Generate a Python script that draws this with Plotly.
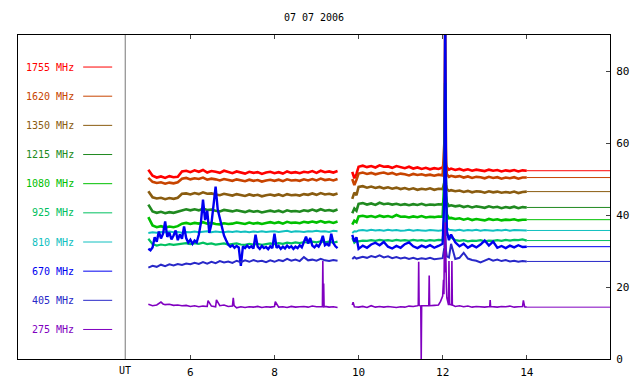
import plotly.graph_objects as go

TITLE = "07 07 2006"
CHANNELS = ["1755 MHz", "1620 MHz", "1350 MHz", "1215 MHz", "1080 MHz",
            "925 MHz", "810 MHz", "670 MHz", "405 MHz", "275 MHz"]
COLORS = ["#ff0000", "#c84400", "#8a5c10", "#208a20", "#00c000",
          "#00c060", "#10c0c0", "#0000f0", "#2828c8", "#8000c0"]
X_TICKS = [6, 8, 10, 12, 14]
Y_TICKS = [0, 20, 40, 60, 80]
UT_HOUR = 4.45
X_END = 15.98

# time grids (UT hours)
HOURS_A = [5.0, 5.1, 5.2, 5.3, 5.4, 5.5, 5.6, 5.7, 5.8, 5.9,
           6.0, 6.1, 6.2, 6.3, 6.4, 6.5, 6.6, 6.7, 6.8, 6.9,
           7.0, 7.1, 7.2, 7.3, 7.4, 7.5, 7.6, 7.7, 7.8, 7.9,
           8.0, 8.1, 8.2, 8.3, 8.4, 8.5, 8.6, 8.7, 8.8, 8.9,
           9.0, 9.1, 9.2, 9.3, 9.4, 9.5]
HOURS_B = [9.85, 9.9, 9.95,
           10.0, 10.1, 10.2, 10.3, 10.4, 10.5, 10.6, 10.7, 10.8, 10.9,
           11.0, 11.1, 11.2, 11.3, 11.4, 11.5, 11.6, 11.7, 11.8, 11.9, 12.0,
           12.04, 12.06, 12.08, 12.1, 12.15, 12.2,
           12.3, 12.4, 12.5, 12.6, 12.7, 12.8, 12.9,
           13.0, 13.1, 13.2, 13.3, 13.4, 13.5, 13.6, 13.7, 13.8, 13.9, 14.0]
HOURS_A_FINE = [5.0, 5.05, 5.1, 5.15, 5.2, 5.25, 5.3, 5.35, 5.4, 5.45,
                5.5, 5.55, 5.6, 5.65, 5.7, 5.75, 5.8, 5.85, 5.9, 5.95,
                6.0, 6.05, 6.1, 6.15, 6.2, 6.25, 6.3, 6.35, 6.4, 6.45,
                6.5, 6.55, 6.6, 6.65, 6.7, 6.75, 6.8, 6.85, 6.9, 6.95,
                7.0, 7.05, 7.1, 7.15, 7.2, 7.25, 7.3, 7.35, 7.4, 7.45,
                7.5, 7.55, 7.6, 7.65, 7.7, 7.75, 7.8, 7.85, 7.9, 7.95,
                8.0, 8.05, 8.1, 8.15, 8.2, 8.25, 8.3, 8.35, 8.4, 8.45,
                8.5, 8.55, 8.6, 8.65, 8.7, 8.75, 8.8, 8.85, 8.9, 8.95,
                9.0, 9.05, 9.1, 9.15, 9.2, 9.25, 9.3, 9.35, 9.4, 9.45,
                9.5]
HOURS_P_A = [5.0, 5.1, 5.2, 5.3, 5.35, 5.4, 5.5, 5.6, 5.7, 5.8,
             5.9, 6.0, 6.1, 6.2, 6.3, 6.4, 6.42, 6.5, 6.6, 6.62,
             6.7, 6.8, 6.9, 7.0, 7.02, 7.04, 7.1, 7.2, 7.3, 7.4,
             7.5, 7.6, 7.7, 7.8, 7.9, 8.0, 8.02, 8.1, 8.2, 8.3,
             8.4, 8.5, 8.6, 8.7, 8.8, 8.9, 9.0, 9.1, 9.14, 9.15,
             9.16, 9.17, 9.18, 9.2, 9.3, 9.4, 9.5]
HOURS_P_B = [9.85, 9.87, 9.9, 10.0, 10.1, 10.2, 10.3, 10.4, 10.5, 10.6,
             10.7, 10.8, 10.9, 11.0, 11.1, 11.2, 11.3, 11.4, 11.42, 11.43,
             11.44, 11.48, 11.49, 11.5, 11.6, 11.67, 11.68, 11.69, 11.8, 11.9,
             11.95, 12.0, 12.02, 12.03, 12.04, 12.05, 12.06, 12.07, 12.08, 12.09,
             12.1, 12.12, 12.14, 12.15, 12.16, 12.21, 12.22, 12.23, 12.3, 12.4,
             12.5, 12.6, 12.7, 12.8, 12.9, 13.0, 13.12, 13.13, 13.14, 13.2,
             13.3, 13.4, 13.5, 13.6, 13.7, 13.8, 13.9, 13.92, 13.95, 14.0]

# flux values (arbitrary units)
F1755_A = [52.6, 50.9, 50.4, 50.7, 50.3, 50.8, 50.5, 50.6, 52.1, 52.3,
           51.9, 52.4, 52.0, 52.5, 51.8, 52.2, 52.0, 51.7, 52.3, 51.9,
           51.6, 52.1, 51.8, 51.5, 52.0, 51.7, 51.9, 51.4, 51.8, 52.0,
           51.6, 51.9, 51.5, 52.1, 51.7, 51.9, 51.6, 52.0, 51.8, 52.2,
           51.7, 52.3, 51.9, 52.1, 51.8, 52.2]
F1755_B = [52.0, 50.2, 51.4,
           53.4, 53.7, 53.3, 53.6, 53.2, 53.8, 53.4, 53.5, 53.1, 53.6,
           53.3, 53.0, 53.4, 52.9, 53.2, 52.8, 53.1, 52.7, 53.0, 52.8, 53.2,
           54.5, 67.0, 53.8, 53.2, 52.6, 52.9,
           52.5, 52.8, 52.4, 52.7, 52.3, 52.6, 52.5,
           52.2, 52.6, 52.3, 52.5, 52.1, 52.4, 52.2, 52.5, 52.1, 52.4, 52.3]
F1620_A = [50.3, 49.2, 48.9, 49.1, 48.7, 49.0, 48.8, 49.1, 50.1, 50.3,
           49.9, 50.2, 50.0, 50.4, 49.8, 50.1, 49.9, 49.6, 50.0, 49.8,
           49.5, 49.9, 49.7, 49.4, 49.8, 49.5, 49.7, 49.3, 49.6, 49.8,
           49.5, 49.8, 49.4, 49.9, 49.6, 49.7, 49.5, 49.9, 49.6, 50.0,
           49.6, 50.1, 49.7, 49.9, 49.6, 50.0]
F1620_B = [50.0, 48.3, 49.8,
           51.5, 51.8, 51.4, 51.7, 51.3, 51.6, 51.8, 51.4, 51.7, 51.2,
           51.5, 51.3, 51.0, 51.4, 51.1, 51.3, 51.0, 51.2, 50.9, 51.2, 51.0,
           60.0, 95.0, 55.0, 51.3, 50.6, 50.9,
           50.6, 50.8, 50.4, 50.7, 50.3, 50.6, 50.5,
           50.2, 50.6, 50.3, 50.5, 50.1, 50.4, 50.2, 50.5, 50.1, 50.4, 50.4]
F1350_A = [46.6, 44.9, 44.6, 44.8, 44.4, 44.7, 44.5, 44.8, 45.9, 46.0,
           45.7, 46.1, 45.8, 46.3, 45.9, 46.0, 45.7, 45.5, 45.9, 45.6,
           45.4, 45.8, 45.6, 45.3, 45.7, 45.4, 45.6, 45.2, 45.5, 45.7,
           45.4, 45.7, 45.3, 45.8, 45.5, 45.6, 45.4, 45.8, 45.6, 46.0,
           45.6, 46.1, 45.7, 45.9, 45.6, 46.0]
F1350_B = [44.5, 46.2, 45.5,
           47.8, 48.0, 47.6, 47.9, 47.5, 47.8, 47.4, 47.7, 47.3, 47.6,
           47.2, 47.5, 47.1, 47.4, 47.0, 47.3, 47.1, 47.4, 47.0, 47.3, 47.2,
           49.0, 52.0, 48.5, 47.2, 46.7, 46.9,
           46.6, 46.8, 46.4, 46.7, 46.3, 46.6, 46.5,
           46.2, 46.6, 46.3, 46.5, 46.2, 46.4, 46.2, 46.5, 46.1, 46.4, 46.5]
F1215_A = [42.9, 41.0, 40.6, 40.9, 40.5, 40.8, 40.6, 40.9, 41.4, 41.6,
           41.3, 41.6, 41.3, 41.8, 41.4, 41.5, 41.2, 41.0, 41.4, 41.1,
           41.0, 41.3, 41.1, 40.8, 41.2, 40.9, 41.1, 40.7, 41.0, 41.2,
           40.9, 41.2, 40.8, 41.3, 41.0, 41.1, 40.9, 41.3, 41.1, 41.5,
           41.1, 41.6, 41.2, 41.4, 41.1, 41.5]
F1215_B = [40.5, 41.8, 41.2,
           43.1, 43.3, 42.9, 43.2, 42.8, 43.4, 43.0, 43.2, 42.9, 43.1,
           42.8, 43.0, 42.7, 43.0, 42.8, 43.1, 42.7, 42.9, 42.8, 43.0, 42.9,
           45.0, 48.5, 45.5, 43.4, 42.5, 42.7,
           42.4, 42.6, 42.2, 42.5, 42.1, 42.4, 42.2,
           42.0, 42.4, 42.1, 42.3, 41.9, 42.2, 42.0, 42.3, 41.9, 42.2, 42.1]
F1080_A = [39.4, 37.1, 36.6, 36.9, 36.5, 36.8, 36.6, 36.9, 37.6, 37.8,
           37.5, 37.8, 37.6, 38.0, 37.6, 37.8, 37.5, 37.4, 37.7, 37.5,
           37.6, 37.9, 37.7, 37.5, 37.9, 37.6, 37.8, 37.5, 37.8, 38.0,
           37.7, 38.0, 37.6, 38.1, 37.8, 37.9, 37.7, 38.1, 37.9, 38.2,
           37.9, 38.3, 37.9, 38.1, 37.8, 38.2]
F1080_B = [37.3, 38.4, 38.0,
           39.6, 39.8, 39.5, 39.7, 39.4, 39.8, 39.5, 39.7, 39.4, 40.0,
           39.5, 39.6, 39.3, 39.6, 39.4, 39.7, 39.3, 39.5, 39.4, 39.6, 39.5,
           50.0, 76.7, 45.0, 40.2, 39.1, 39.2,
           38.9, 39.1, 38.7, 39.0, 38.6, 38.9, 38.7,
           38.5, 38.9, 38.6, 38.8, 38.5, 38.7, 38.6, 38.8, 38.5, 38.7, 38.7]
F925_A = [33.4, 31.9, 31.5, 31.8, 31.6, 31.9, 31.7, 31.8, 32.1, 32.2,
          31.9, 32.2, 32.0, 32.3, 31.9, 32.1, 31.8, 31.9, 32.1, 31.8,
          31.9, 32.1, 31.8, 31.7, 32.0, 31.8, 32.0, 31.7, 31.9, 32.1,
          31.9, 32.2, 32.0, 32.3, 32.1, 32.4, 32.2, 32.5, 32.3, 32.6,
          32.4, 32.7, 32.4, 32.6, 32.3, 32.6]
F925_B = [33.6, 32.3, 32.8,
          32.7, 32.9, 32.8, 33.0, 32.8, 33.1, 32.9, 33.0, 32.8, 33.1,
          32.9, 33.0, 32.8, 33.1, 32.9, 33.0, 32.8, 33.0, 32.9, 33.1, 33.0,
          38.0, 43.0, 37.0, 34.5, 34.2, 33.8,
          33.0, 32.8, 33.0, 32.7, 32.9, 32.8, 33.0,
          32.7, 32.9, 32.8, 33.0, 32.8, 33.1, 32.9, 33.1, 33.0, 33.2, 32.9]
F810_A = [35.0, 35.2, 35.1, 35.3, 35.2, 35.4, 35.2, 35.3, 35.1, 35.3,
          35.2, 35.4, 35.2, 35.3, 35.5, 35.2, 35.4, 35.3, 35.2, 35.4,
          35.3, 35.5, 35.3, 35.4, 35.2, 35.4, 35.3, 35.5, 35.3, 35.4,
          35.5, 35.3, 35.4, 35.6, 35.3, 35.5, 35.4, 35.3, 35.5, 35.4,
          35.6, 35.4, 35.5, 35.3, 35.6, 35.5]
F810_B = [35.0, 35.5, 35.4,
          35.7, 35.8, 35.6, 35.9, 35.7, 35.8, 35.6, 35.9, 35.7, 35.8,
          35.6, 35.7, 35.9, 35.6, 35.8, 35.7, 35.6, 35.8, 35.7, 35.6, 35.8,
          40.0, 45.0, 39.0, 36.5, 35.9, 35.8,
          35.7, 35.9, 35.6, 35.8, 35.7, 35.9, 35.6,
          35.8, 35.7, 35.6, 35.8, 35.7, 35.9, 35.6, 35.8, 35.7, 35.7, 35.7]
F670_A = [30.6, 30.2, 31.0, 33.8, 32.6, 35.4, 33.5, 34.8, 38.2, 33.9,
          35.1, 33.2, 34.3, 35.7, 33.0, 34.6, 33.4, 36.8, 33.6, 32.3,
          33.1, 32.0, 32.9, 32.4, 34.5, 37.8, 44.3, 38.6, 41.2, 35.0,
          37.5, 43.0, 47.9, 41.5, 38.8, 36.2, 34.3, 33.0, 31.8, 31.2,
          31.6, 30.9, 31.4, 31.0, 25.9, 31.3, 30.8, 31.5, 30.9, 31.3,
          30.7, 34.5, 31.2, 30.6, 31.4, 30.8, 31.1, 30.5, 31.3, 30.8,
          34.8, 30.9, 31.4, 30.6, 31.2, 30.7, 31.5, 30.9, 31.3, 30.6,
          31.2, 30.8, 31.6, 31.0, 32.4, 34.0, 32.1, 33.6, 31.5, 31.0,
          31.7, 31.2, 32.3, 34.2, 31.6, 32.0, 31.4, 34.8, 32.2, 31.3,
          30.8]
F670_B = [34.5, 32.6, 33.8,
          30.6, 31.5, 30.9, 31.8, 32.3, 31.6, 32.5, 31.2, 30.7, 31.4,
          30.9, 31.9, 32.4, 31.3, 30.8, 31.5, 31.0, 31.6, 30.9, 31.4, 32.0,
          45.0, 100.0, 50.0, 35.5, 33.0, 34.6,
          32.4, 31.3, 32.0, 30.9, 31.6, 31.0, 31.8,
          32.9, 31.5, 32.6, 30.9, 31.4, 30.8, 31.5, 31.0, 31.6, 31.1, 31.2]
F405_A = [25.4, 25.9, 25.6, 26.2, 25.8, 26.3, 26.0, 26.4, 26.1, 26.5,
          26.3, 26.7, 26.4, 26.9, 26.5, 27.0, 26.6, 27.2, 26.8, 27.1,
          26.7, 27.3, 26.9, 27.4, 27.0, 27.5, 27.1, 27.3, 26.9, 27.4,
          27.0, 27.5, 27.2, 27.8, 27.3, 27.6, 27.2, 28.3, 27.4, 27.6,
          27.3, 27.8, 27.4, 27.2, 27.5, 27.3]
F405_B = [27.8, 28.3, 27.9,
          28.0, 28.4, 28.1, 28.6, 28.3, 28.8, 28.2, 28.5, 28.0, 28.3,
          27.9, 28.2, 27.8, 28.1, 27.7, 28.0, 27.8, 28.1, 27.7, 27.9, 28.0,
          31.0, 36.0, 30.0, 28.5, 28.2, 32.0,
          27.8, 28.1, 29.5, 27.9, 27.5, 27.3, 26.8,
          27.4, 27.8, 27.3, 27.6, 27.2, 27.5, 27.1, 27.3, 27.0, 27.2, 27.1]
F275_A = [15.2, 14.8, 15.0, 15.8, 15.3, 15.1, 15.2, 14.9, 15.0, 14.8,
          14.9, 14.6, 14.8, 14.5, 14.7, 14.6, 16.2, 14.7, 14.5, 16.4,
          14.8, 15.0, 14.6, 14.7, 17.0, 14.8, 14.2, 14.5, 14.3, 14.5,
          14.4, 14.6, 14.3, 14.5, 14.4, 14.6, 15.9, 14.4, 14.5, 14.3,
          14.6, 14.4, 14.5, 14.6, 14.4, 14.7, 14.5, 14.6, 14.5, 27.2,
          14.6, 21.0, 14.5, 14.6, 14.4, 14.5, 14.3]
F275_B = [15.0, 15.8, 14.5, 14.4, 14.6, 14.3, 14.8, 14.4, 14.6, 14.4,
          14.6, 14.5, 14.3, 14.5, 14.4, 14.7, 14.6, 14.8, 14.9, 27.0,
          15.0, 14.6, 0.0, 14.8, 14.7, 14.8, 23.2, 14.8, 14.9, 15.0,
          16.0, 17.5, 22.0, 18.0, 30.0, 24.0, 38.0, 26.0, 33.0, 20.0,
          17.0, 15.5, 15.0, 27.2, 15.2, 15.0, 27.2, 15.0, 14.6, 14.8,
          14.5, 14.7, 14.4, 14.6, 14.5, 14.4, 14.6, 16.4, 14.6, 14.5,
          14.4, 14.6, 14.5, 14.7, 14.4, 14.5, 14.6, 16.3, 14.5, 14.4]

SERIES = [
    (HOURS_A, F1755_A, HOURS_B, F1755_B),
    (HOURS_A, F1620_A, HOURS_B, F1620_B),
    (HOURS_A, F1350_A, HOURS_B, F1350_B),
    (HOURS_A, F1215_A, HOURS_B, F1215_B),
    (HOURS_A, F1080_A, HOURS_B, F1080_B),
    (HOURS_A, F925_A, HOURS_B, F925_B),
    (HOURS_A, F810_A, HOURS_B, F810_B),
    (HOURS_A_FINE, F670_A, HOURS_B, F670_B),
    (HOURS_A, F405_A, HOURS_B, F405_B),
    (HOURS_P_A, F275_A, HOURS_P_B, F275_B),
]
WIDTHS = [2.6, 2.6, 2.6, 2.6, 2.6, 2.2, 2.0, 2.4, 2.0, 1.6]

FONT = "DejaVu Sans Mono"
fig = go.Figure()

for (ta, va, tb, vb), color, w in zip(SERIES, COLORS, WIDTHS):
    fig.add_trace(go.Scatter(
        x=list(ta) + [None] + list(tb), y=list(va) + [None] + list(vb),
        mode="lines", line=dict(color=color, width=w), hoverinfo="skip"))
    fig.add_trace(go.Scatter(
        x=[tb[-1], X_END], y=[vb[-1], vb[-1]],
        mode="lines", line=dict(color=color, width=1), hoverinfo="skip"))

shapes = [dict(type="line", xref="x", yref="paper", x0=UT_HOUR, x1=UT_HOUR,
               y0=0, y1=1, line=dict(color="#777777", width=1))]
annotations = [dict(x=UT_HOUR, y=0, xref="x", yref="paper", text="UT",
                    showarrow=False, yanchor="top", yshift=-4,
                    font=dict(family=FONT, size=10, color="black"))]
for i, (name, color) in enumerate(zip(CHANNELS, COLORS)):
    ly = 81.1 - 8.1 * i
    annotations.append(dict(x=3.29, y=ly, xref="x", yref="y", text=name,
                            showarrow=False, xanchor="right", yanchor="middle",
                            font=dict(family=FONT, size=10, color=color)))
    shapes.append(dict(type="line", xref="x", yref="y", x0=3.45, x1=4.14,
                       y0=ly, y1=ly, line=dict(color=color, width=1)))

fig.update_layout(
    width=640, height=384,
    margin=dict(l=18, r=30, t=35, b=25),
    paper_bgcolor="white", plot_bgcolor="white",
    showlegend=False,
    font=dict(family=FONT, size=10, color="black"),
    title=dict(text=TITLE, x=0.5, xref="paper", xanchor="center",
               y=1 - 17 / 384, yref="container", yanchor="middle",
               font=dict(family=FONT, size=10, color="black")),
    shapes=shapes, annotations=annotations,
    xaxis=dict(range=[1.9, X_END], tickvals=X_TICKS, ticks="inside", ticklen=4,
               showline=True, linecolor="black", linewidth=1, mirror="ticks",
               showgrid=False, zeroline=False, ticklabelstandoff=3,
               automargin=False,
               tickfont=dict(family=FONT, size=11, color="black")),
    yaxis=dict(range=[0, 90], tickvals=Y_TICKS, side="right", ticks="inside",
               ticklen=4, showline=True, linecolor="black", linewidth=1,
               mirror=True, showgrid=False, zeroline=False,
               ticklabelstandoff=3, automargin=False,
               tickfont=dict(family=FONT, size=11, color="black")),
)

fig.write_html("out.html",
               config={"displayModeBar": False},
               post_script="document.body.style.margin='0px';"
                           "document.body.style.padding='0px';")
